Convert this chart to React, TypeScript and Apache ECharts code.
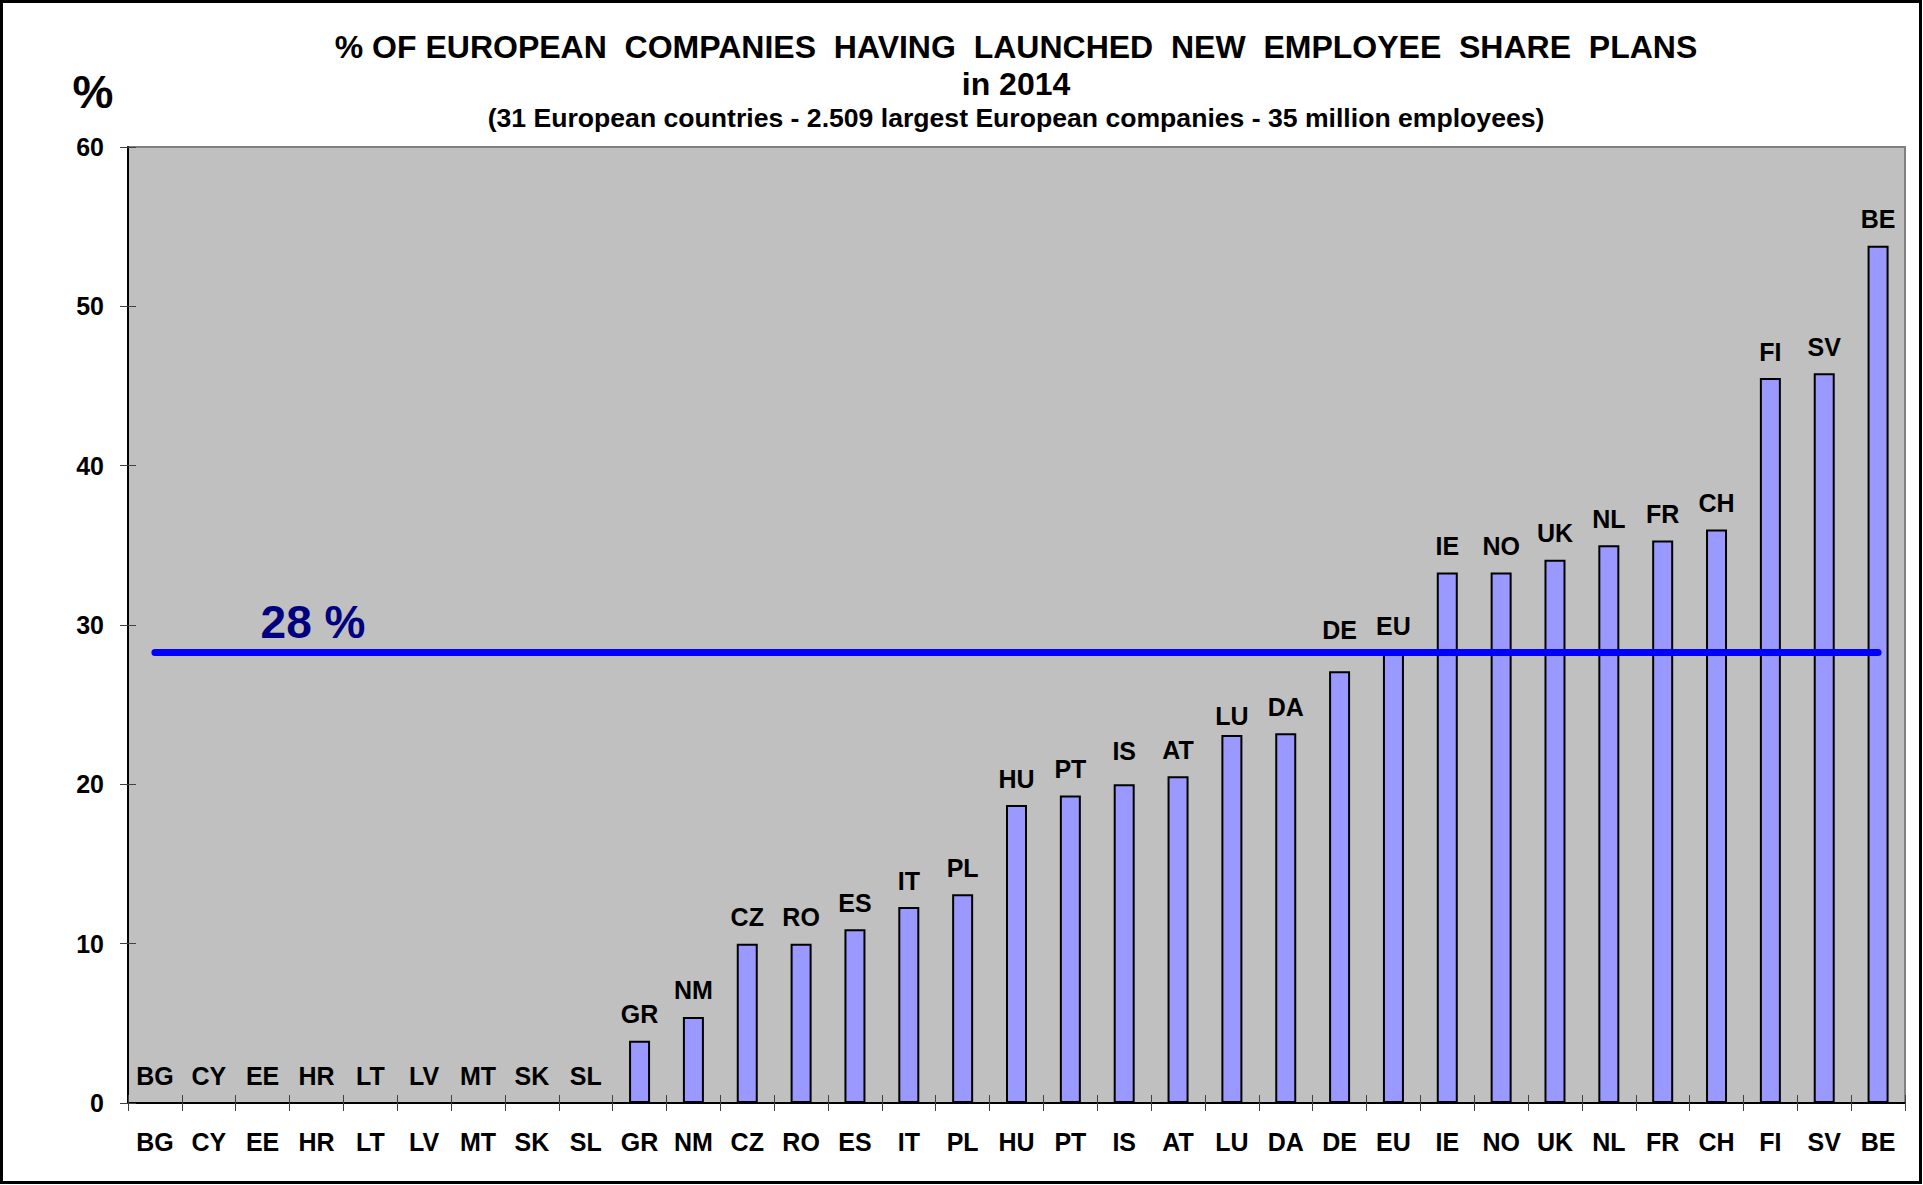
import React, { useEffect, useRef } from "react";
import * as echarts from "echarts";

const categories = [
  "BG", "CY", "EE", "HR", "LT", "LV", "MT", "SK", "SL", "GR", "NM", "CZ", "RO", "ES", "IT", "PL",
  "HU", "PT", "IS", "AT", "LU", "DA", "DE", "EU", "IE", "NO", "UK", "NL", "FR", "CH", "FI", "SV", "BE",
];
const values = [
  0, 0, 0, 0, 0, 0, 0, 0, 0, 3.9, 5.4, 10.0, 10.0, 10.9, 12.3, 13.1,
  18.7, 19.3, 20.0, 20.5, 23.1, 23.2, 27.1, 28.3, 33.3, 33.3, 34.1, 35.0, 35.3, 36.0, 45.5, 45.8, 53.8,
];
const average = 28.3;
const averageLabel = "28 %";
const yTicks = { min: 0, max: 60, interval: 10 };
const titleLine1 = "% OF EUROPEAN  COMPANIES  HAVING  LAUNCHED  NEW  EMPLOYEE  SHARE  PLANS";
const titleLine2 = "in 2014";
const subtitle = "(31 European countries - 2.509 largest European companies - 35 million employees)";
const yUnit = "%";

const FONT = "'Liberation Sans', Arial, Helvetica, sans-serif";
const LABEL_SIZE = 25;

// hand-placed label nudges in the original (pixels, layout only)
const labelNudge: Record<string, number> = { DE: -15, IS: -7, LU: 8 };

export default function App() {
  const ref = useRef<HTMLDivElement>(null);
  useEffect(() => {
    if (!ref.current) return;
    const chart = echarts.init(ref.current, null, { renderer: "svg" });
    const last = categories.length - 1;
    const barData = values.map((v, i) => {
      const nudge = labelNudge[categories[i]];
      return nudge ? { value: v, label: { offset: [0, nudge] } } : v;
    });
    chart.setOption({
      animation: false,
      backgroundColor: "#ffffff",
      textStyle: { fontFamily: FONT },
      grid: {
        left: 128,
        top: 147,
        right: 18,
        bottom: 82,
        show: true,
        backgroundColor: "#C0C0C0",
        borderColor: "#808080",
        borderWidth: 2,
      },
      xAxis: [
        {
          type: "category",
          data: categories,
          boundaryGap: true,
          axisLine: { show: true, lineStyle: { color: "#000000", width: 2 } },
          axisTick: { show: true, inside: false, length: 8, lineStyle: { color: "#404040", width: 1 } },
          axisLabel: {
            show: true,
            margin: 26,
            color: "#000000",
            fontSize: LABEL_SIZE,
            fontWeight: "bold",
            fontFamily: FONT,
            interval: 0,
          },
          splitLine: { show: false },
        },
        {
          type: "category",
          data: categories,
          position: "bottom",
          boundaryGap: true,
          axisLine: { show: false },
          axisTick: { show: true, inside: true, length: 8, lineStyle: { color: "#404040", width: 1 } },
          axisLabel: { show: false },
          splitLine: { show: false },
        },
      ],
      yAxis: [
        {
          type: "value",
          min: yTicks.min,
          max: yTicks.max,
          interval: yTicks.interval,
          axisLine: { show: true, lineStyle: { color: "#000000", width: 2 } },
          axisTick: { show: true, inside: false, length: 8, lineStyle: { color: "#404040", width: 1 } },
          axisLabel: {
            margin: 24,
            color: "#000000",
            fontSize: LABEL_SIZE,
            fontWeight: "bold",
            fontFamily: FONT,
          },
          splitLine: { show: false },
        },
        {
          type: "value",
          min: yTicks.min,
          max: yTicks.max,
          interval: yTicks.interval,
          position: "left",
          axisLine: { show: false },
          axisTick: { show: true, inside: true, length: 8, lineStyle: { color: "#404040", width: 1 } },
          axisLabel: { show: false },
          splitLine: { show: false },
        },
      ],
      series: [
        {
          type: "bar",
          data: barData,
          barWidth: 21,
          itemStyle: { color: "#9999FF", borderColor: "#000000", borderWidth: 2 },
          label: {
            show: true,
            position: "top",
            distance: 14,
            formatter: "{b}",
            color: "#000000",
            fontSize: LABEL_SIZE,
            fontWeight: "bold",
            fontFamily: FONT,
          },
          markLine: {
            silent: true,
            symbol: ["none", "none"],
            label: { show: false },
            lineStyle: { color: "#0000FF", width: 7, type: "solid", cap: "round" },
            data: [[{ coord: [categories[0], average] }, { coord: [categories[last], average] }]],
          },
        },
      ],
      graphic: [
        {
          type: "rect",
          shape: { x: 1.5, y: 1.5, width: 1919, height: 1181 },
          style: { fill: "none", stroke: "#000000", lineWidth: 3 },
          silent: true,
        },
        {
          type: "text",
          x: 1016,
          y: 47,
          style: {
            text: titleLine1,
            fill: "#000000",
            font: `bold 32px ${FONT}`,
            textAlign: "center",
            textVerticalAlign: "middle",
          },
        },
        {
          type: "text",
          x: 1016,
          y: 84,
          style: {
            text: titleLine2,
            fill: "#000000",
            font: `bold 32px ${FONT}`,
            textAlign: "center",
            textVerticalAlign: "middle",
          },
        },
        {
          type: "text",
          x: 1016,
          y: 118,
          style: {
            text: subtitle,
            fill: "#000000",
            font: `bold 26.6px ${FONT}`,
            textAlign: "center",
            textVerticalAlign: "middle",
          },
        },
        {
          type: "text",
          x: 93,
          y: 92,
          style: {
            text: yUnit,
            fill: "#000000",
            font: `bold 46px ${FONT}`,
            textAlign: "center",
            textVerticalAlign: "middle",
          },
        },
        {
          type: "text",
          x: 313,
          y: 622,
          z: 10,
          style: {
            text: averageLabel,
            fill: "#000080",
            font: `bold 46px ${FONT}`,
            textAlign: "center",
            textVerticalAlign: "middle",
          },
        },
      ],
    });
    return () => chart.dispose();
  }, []);
  return (
    <div
      ref={ref}
      style={{ position: "absolute", left: 0, top: 0, width: 1923, height: 1185 }}
    />
  );
}
